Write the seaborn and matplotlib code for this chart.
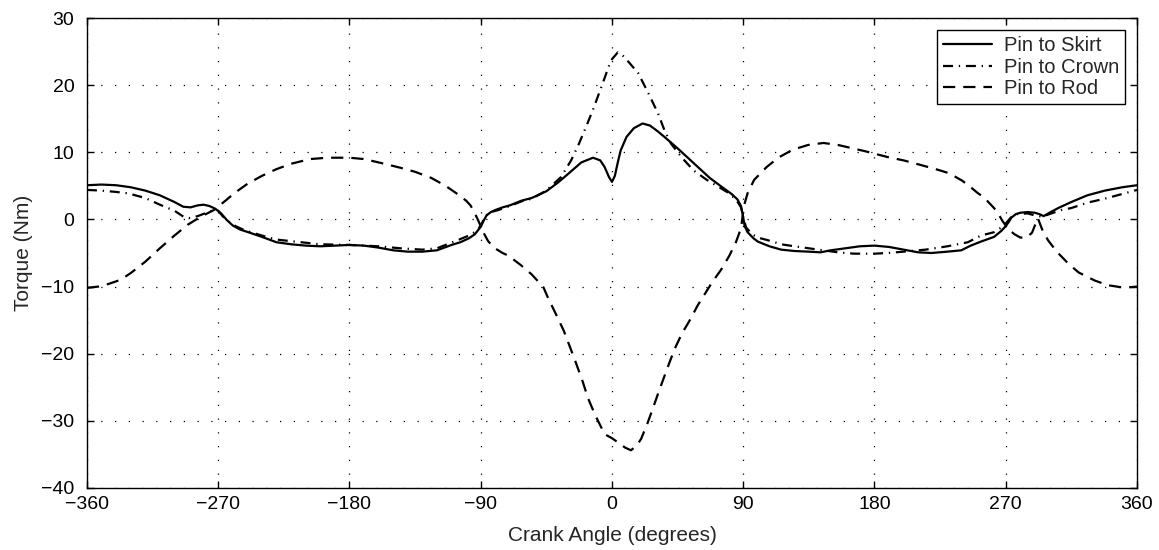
import numpy as np
import pandas as pd
import matplotlib
matplotlib.use("Agg")
import matplotlib.pyplot as plt
import seaborn as sns

# ---------------- data ----------------
skirt_deg = [-360, -350, -340, -330, -320, -310, -300, -294, -289, -284, -280, -276, -272, -268,
             -264, -260, -255, -248, -240, -230, -220, -210, -200, -190, -180, -170, -160, -150,
             -140, -130, -120, -110, -104, -98, -94, -90, -88, -86, -83, -80, -75, -70, -62, -55,
             -45, -37, -30, -21, -13, -8, -5, -2, 0, 2, 4, 6, 10, 15, 21, 26, 31, 36, 45, 52, 59,
             67, 75, 82, 86, 88.5, 90, 91, 93, 97, 100, 108, 116, 125, 135, 143, 150, 160, 170,
             180, 190, 200, 210, 219, 230, 239.5, 246, 253, 262, 267, 270, 272, 274, 277, 280,
             285, 290, 293, 296, 300, 306, 315, 326, 338, 350, 360]
skirt_nm = [5.1, 5.2, 5.1, 4.8, 4.3, 3.6, 2.6, 1.9, 1.8, 2.1, 2.2, 2.0, 1.6, 0.9,
            -0.1, -0.9, -1.5, -2.0, -2.6, -3.4, -3.7, -3.9, -4.0, -3.9, -3.8, -3.9, -4.2, -4.6,
            -4.8, -4.8, -4.6, -3.8, -3.4, -2.8, -2.2, -1.1, -0.2, 0.6, 1.1, 1.4, 1.8, 2.1, 2.8, 3.2,
            4.2, 5.5, 6.8, 8.5, 9.2, 8.8, 7.8, 6.3, 5.6, 6.5, 8.5, 10.3, 12.3, 13.6, 14.3, 14.0, 13.2, 12.3, 10.6, 9.2, 7.8,
            6.2, 4.9, 3.8, 3.0, 2.0, 0.3, -1.0, -1.9, -2.8, -3.3, -4.0, -4.5, -4.7, -4.8, -4.9, -4.6, -4.3, -4.0,
            -3.9, -4.1, -4.5, -4.9, -5.0, -4.8, -4.6, -3.9, -3.3, -2.6, -1.7, -1.0, -0.4, 0.3, 0.8, 1.0,
            1.1, 1.0, 0.8, 0.5, 1.0, 1.7, 2.6, 3.6, 4.3, 4.8, 5.1]

crown_deg = [-360, -350, -340, -332, -320, -310, -300, -293, -290, -284, -278, -273, -270, -267,
             -263, -258, -252, -240, -230, -213, -200, -180, -160, -145, -130, -120, -106, -98,
             -92, -89, -87, -83, -78, -70, -62, -55, -45, -35, -28, -22.6, -17, -12.4, -6, -0.7,
             4, 8, 11.7, 18, 25, 31.6, 36, 40.5, 48, 56, 65, 72, 79.6, 85, 88.5, 90, 92, 96, 100,
             107, 116, 125, 135, 145, 155, 166, 180, 189, 200, 215, 230, 244, 253, 262, 267, 270,
             274, 278, 285, 290, 295, 300, 308, 315, 326, 338, 350, 360]
crown_nm = [4.4, 4.3, 4.1, 3.9, 3.2, 2.2, 1.3, 0.3, 0.2, 0.5, 1.0, 1.4, 1.3, 0.5,
            -0.3, -1.0, -1.6, -2.4, -3.0, -3.4, -3.7, -3.8, -4.0, -4.3, -4.5, -4.3, -3.1, -2.4,
            -1.6, -0.5, 0.5, 1.1, 1.4, 2.0, 2.7, 3.1, 4.3, 6.3, 8.8, 11.3, 14.2, 16.7, 20.5, 23.7,
            24.9, 24.3, 23.4, 21.8, 18.8, 15.8, 13.3, 11.3, 9.2, 7.3, 5.9, 5.0, 4.0, 3.0, 1.8, 0.3, -1.2, -2.2, -2.7,
            -3.1, -3.7, -4.0, -4.3, -4.6, -4.9, -5.1, -5.1, -5.0, -4.8, -4.5, -4.0, -3.4, -2.4, -1.9, -1.2, -0.6,
            0.4, 0.8, 0.9, 0.6, 0.4, 0.8, 1.4, 1.7, 2.5, 3.1, 3.8, 4.4]

rod_deg = [-360, -352, -345, -337, -330, -320, -310, -300, -291, -282, -273, -265, -259, -250,
           -240, -230, -220, -207, -195, -180, -170, -158, -145, -135, -124, -114, -106, -100,
           -97, -94, -92, -90, -88, -85, -81, -75, -71, -62.5, -55, -47, -44, -38, -33, -26, -20,
           -16.5, -12, -9.6, -5, 0, 4, 9, 13, 17, 20, 24.5, 28, 31.7, 35.4, 39.3, 43.2, 48, 53.7,
           58.8, 63.7, 68.6, 74.8, 80.5,
           85, 88.5, 90.6, 93, 97.5, 106, 114, 124, 134.5, 145, 155, 165, 173, 189, 200, 212, 222,
           231, 240, 246, 251, 255, 262, 265, 268, 272, 276, 280, 284, 288, 292, 295, 299, 305,
           313, 320, 331, 340, 349, 355, 360]
rod_nm = [-10.2, -10.0, -9.6, -9.0, -8.0, -6.3, -4.3, -2.4, -0.8, 0.4, 1.4, 2.8, 3.9, 5.3,
          6.5, 7.5, 8.3, 9.0, 9.2, 9.2, 9.0, 8.4, 7.7, 7.1, 6.2, 5.0, 3.8, 2.8,
          2.1, 0.9, 0.0, -1.0, -2.0, -3.2, -4.2, -5.0, -5.4, -6.8, -8.2, -10.1, -11.6, -14.3, -16.6, -20.6, -24.2,
          -26.6, -28.9, -30.0, -32.0, -32.6, -33.2, -34.0, -34.4, -33.7, -32.7, -30.3, -28.2, -25.9, -23.7, -21.4, -19.2, -17.0, -14.9,
          -12.8, -11.1, -9.4, -7.5, -5.4,
          -3.4, -1.3, 2.1, 3.9, 5.9, 7.8, 9.2, 10.4, 11.1, 11.4, 11.1, 10.6, 10.2, 9.3, 8.8, 8.1, 7.5,
          6.9, 5.8, 4.8, 3.9, 3.3, 1.7, 0.8, -0.3, -1.5, -2.2, -2.7, -2.7, -2.0, 0.2, -1.5, -3.1, -4.8,
          -6.6, -7.9, -9.1, -9.8, -10.1, -10.1, -10.0]

series_names = ["Pin to Skirt", "Pin to Crown", "Pin to Rod"]
x_ticks = [-360, -270, -180, -90, 0, 90, 180, 270, 360]
y_ticks = [-40, -30, -20, -10, 0, 10, 20, 30]

# ---------------- plotting ----------------
sns.set_style("ticks")
plt.rcParams["font.family"] = ["Liberation Sans", "DejaVu Sans"]

fig, ax = plt.subplots(figsize=(11.59, 5.5), dpi=100)
fig.subplots_adjust(left=0.075, right=0.981, top=0.967, bottom=0.113)

styles = ["-", (0, (4.5, 2.6, 0.6, 2.6)), (0, (5.5, 3.6))]
data = [(skirt_deg, skirt_nm), (crown_deg, crown_nm), (rod_deg, rod_nm)]
for (xd, yd), name, ls in zip(data, series_names, styles):
    df = pd.DataFrame({"deg": xd, "nm": yd})
    sns.lineplot(data=df, x="deg", y="nm", ax=ax, color="black", linewidth=1.6,
                 linestyle=ls, sort=False, estimator=None, label=name)

ax.set_xlim(-360, 360)
ax.set_ylim(-40, 30)
ax.set_xticks(x_ticks)
ax.set_yticks(y_ticks)
ax.set_xticklabels([str(t).replace("-", "\u2212") for t in x_ticks])
ax.set_yticklabels([str(t).replace("-", "\u2212") for t in y_ticks])
ax.grid(True, color="black", linestyle=(0, (1, 10)), linewidth=0.9)
ax.tick_params(direction="in", length=5, width=1, top=True, right=True,
               labelsize=14, colors="black")
ax.tick_params(axis="x", pad=6)
ax.tick_params(axis="y", pad=9)
for s in ax.spines.values():
    s.set_color("black")
    s.set_linewidth(1.0)
ax.set_xlabel("Crank Angle (degrees)", fontsize=15, labelpad=9)
ax.set_ylabel("Torque (Nm)", fontsize=15, labelpad=6)

leg = ax.legend(loc="upper right", fontsize=14.5, frameon=True, fancybox=False,
                edgecolor="black", framealpha=1, handlelength=2.4,
                borderaxespad=0.6, borderpad=0.3, labelspacing=0.12,
                handletextpad=0.6)
leg.get_frame().set_linewidth(1.0)

fig.savefig("out.png", dpi=100)
